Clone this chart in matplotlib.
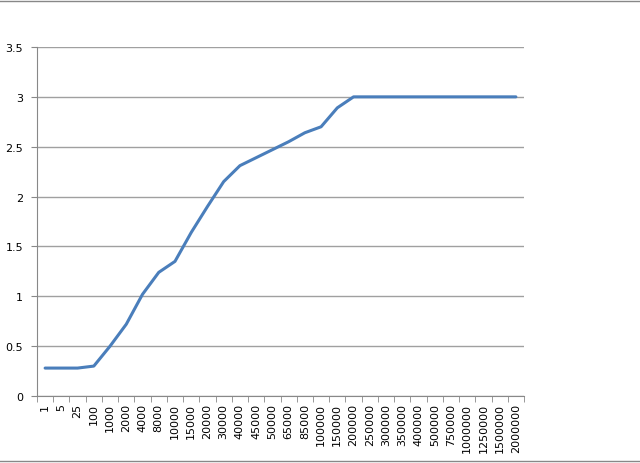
import numpy as np
import matplotlib.pyplot as plt
from matplotlib.lines import Line2D

# Category labels along the x axis
categories = ["1", "5", "25", "100", "1000", "2000", "4000", "8000", "10000",
              "15000", "20000", "30000", "40000", "45000", "50000", "65000",
              "85000", "100000", "150000", "200000", "250000", "300000",
              "350000", "400000", "500000", "750000", "1000000", "1250000",
              "1500000", "2000000"]

# Series values
values = [0.28, 0.28, 0.28, 0.30, 0.50, 0.72, 1.02, 1.24, 1.35, 1.64, 1.90,
          2.15, 2.31, 2.39, 2.47, 2.55, 2.64, 2.70, 2.89, 3.0, 3.0, 3.0, 3.0,
          3.0, 3.0, 3.0, 3.0, 3.0, 3.0, 3.0]

fig = plt.figure(figsize=(6.4, 4.64), dpi=100)
ax = fig.add_axes([37 / 640, 1 - 397 / 464, (524 - 37) / 640, (397 - 48) / 464])

x = np.arange(len(categories))
ax.plot(x, values, color="#4a7ebb", lw=2.2, solid_capstyle="round")

ax.set_xlim(-0.5, len(categories) - 0.5)
ax.set_ylim(0, 3.5)
ax.set_yticks(np.arange(0, 3.51, 0.5))
ax.set_yticklabels(["0", "0.5", "1", "1.5", "2", "2.5", "3", "3.5"])
ax.yaxis.grid(True, color="#a0a0a0", lw=1)
ax.set_axisbelow(True)

ax.set_xticks(x)
ax.set_xticklabels(categories, rotation=90)
ax.set_xticks(np.arange(-0.5, len(categories), 1), minor=True)
ax.tick_params(axis="x", which="major", length=0, pad=5, labelsize=8)
ax.tick_params(axis="x", which="minor", length=4, color="#888888")
ax.tick_params(axis="y", length=4, color="#888888", labelsize=8, pad=6)

for s in ["top", "right"]:
    ax.spines[s].set_visible(False)
for s in ["left", "bottom"]:
    ax.spines[s].set_color("#888888")

# Frame lines at the top and bottom of the sheet
fig.add_artist(Line2D([0, 1], [1 - 2 / 464, 1 - 2 / 464], color="#888888", lw=1))
fig.add_artist(Line2D([0, 1], [1 - 462 / 464, 1 - 462 / 464], color="#888888", lw=1))

fig.savefig("out.png")
